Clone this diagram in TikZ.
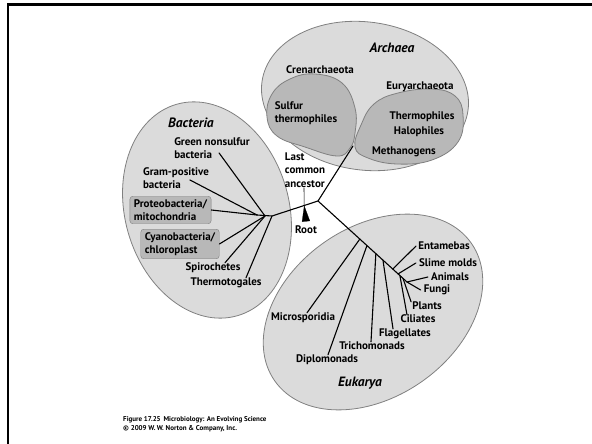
\documentclass[tikz,border=0pt]{standalone}
\usepackage{fontspec}
\setmainfont{PT Sans}
\usetikzlibrary{arrows.meta,calc,positioning}
\definecolor{shadelight}{gray}{0.86}
\definecolor{shadedark}{gray}{0.72}
\definecolor{rim}{gray}{0.5}
\tikzset{%
	realm/.style     = {draw=rim, fill=shadelight, line width=0.8pt}, % domain outline
	subrealm/.style  = {draw=rim, fill=shadedark, line width=0.8pt},
	taxon/.style     = {inner sep=0pt, align=left, font=\bfseries\fontsize{11}{13.5}\selectfont},
	organelle/.style = {taxon, draw=rim, fill=shadedark, rounded corners=3pt, inner xsep=4pt, inner ysep=3pt},
	kingdom/.style   = {inner sep=0pt, font=\bfseries\itshape\fontsize{13.5}{15}\selectfont},
	branch/.style    = {line width=1.1pt, line cap=round},
	leader/.style    = {line width=0.6pt},
	footer/.style    = {inner sep=0pt, align=left, font=\bfseries\fontsize{7}{9}\selectfont},
}

\begin{document}
\begin{tikzpicture}[x=1pt,y=-1pt]
	\useasboundingbox (0,0) rectangle (592,444);
	\draw[line width=2.6pt] (592,4.7) -- (8,4.7) -- (8,444);

	% domains
	\path[realm, rotate around={-8:(365,96)}] (365,96) ellipse [x radius=104, y radius=74];
	\path[realm, rotate around={16:(207,210)}] (207,210) ellipse [x radius=82, y radius=110];
	\path[realm, rotate around={35:(373,312)}] (373,312) ellipse [x radius=120, y radius=85];
	\path[subrealm] plot[smooth cycle, tension=0.7] coordinates {(350,148) (337,156) (305,147) (277,136) (267,117) (272,94) (290,79) (315,74) (342,83) (355,108) (355,133)};
	\path[subrealm] plot[smooth cycle, tension=0.7] coordinates {(355,147) (361,125) (374,104) (398,93) (432,89) (455,96) (463,115) (458,142) (432,160) (397,164) (368,158)};

	% labels
	\node[kingdom] (archaea) at (392,48) {Archaea};
	\node[kingdom] (bacteria) at (191,123) {Bacteria};
	\node[kingdom] (eukarya) at (360,383) {Eukarya};

	\node[taxon] (cren) at (320,70) {Crenarchaeota};
	\node[taxon] (eury) at (420,87) {Euryarchaeota};
	\node[taxon] (sulf) at (306,113) {Sulfur\\thermophiles};
	\node[taxon] (therm) at (422,117) {Thermophiles};
	\node[taxon] (halo) at (419,132) {Halophiles};
	\node[taxon] (meth) at (404,152) {Methanogens};

	\node[taxon] (green) at (212,148) {Green nonsulfur\\bacteria};
	\node[taxon] (gram) at (176,178) {Gram-positive\\bacteria};
	\node[organelle] (proteo) at (170.5,210) {Proteobacteria/\\mitochondria};
	\node[organelle] (cyano) at (180,244) {Cyanobacteria/\\chloroplast};
	\node[taxon] (spiro) at (213,268) {Spirochetes};
	\node[taxon] (thtog) at (226,283) {Thermotogales};

	\node[taxon] (mic) at (303,318) {Microsporidia};
	\node[taxon] (dip) at (327,360) {Diplomonads};
	\node[taxon] (tri) at (372,346) {Trichomonads};
	\node[taxon] (fla) at (405,334) {Flagellates};
	\node[taxon] (cil) at (418,319) {Ciliates};
	\node[taxon] (pla) at (427,306) {Plants};
	\node[taxon] (fun) at (437,290) {Fungi};
	\node[taxon] (ani) at (450,277) {Animals};
	\node[taxon] (sli) at (448,263) {Slime molds};
	\node[taxon] (ent) at (444,246) {Entamebas};

	\node[taxon] (lcalbl) at (305,170) {Last\\common\\ancestor};
	\node[taxon] (root) at (306,230) {Root};

	% tree
	\coordinate (lca) at (318,201);
	\coordinate (arch) at (353,146);
	\coordinate (b0) at (272,216);
	\coordinate (bm) at (265,216);
	\coordinate (b1) at (257,215);
	\coordinate (euk) at (407,282);
	\coordinate (rootpt) at ($(lca)!0.3!(b0)$);

	\draw[branch] (arch) -- (lca) -- (b0) -- (b1);
	\draw[branch] (lca) -- (euk);
	\draw[branch] (b1) -- (proteo.east);
	\draw[branch] (b1) -- ($(gram.south west)+(47,-9)$);
	\draw[branch] (bm) -- ($(green.south west)+(45,-6)$);
	\draw[branch] (bm) -- (cyano.east);
	\draw[branch] (bm) -- ([xshift=12pt]spiro.north);
	\draw[branch] (b0) -- ([xshift=20pt]thtog.north);
	\foreach \leaf/\t/\anc/\dx in {mic/0.47/north/4, dip/0.55/north/1, tri/0.65/north/-1,
		fla/0.73/north/-12, cil/0.92/north/-11, pla/0.955/north west/-1,
		fun/1/west/-3, ani/1/west/-3, sli/0.9/west/-3, ent/0.84/west/-2}
		\draw[branch] ($(lca)!\t!(euk)$) -- ([xshift=\dx pt]\leaf.\anc);

	\draw[leader] ([xshift=-1pt]lcalbl.south) -- (rootpt);
	\draw[-{Triangle[length=16pt,width=8pt]}, line width=0.2pt] ([yshift=4pt]root.north) -- (rootpt);

	\node[footer, anchor=west] (credit) at (123,424) {Figure 17.25\, Microbiology: An Evolving Science\\\textcopyright\ 2009 W.\,W. Norton \& Company, Inc.};
\end{tikzpicture}
\end{document}
